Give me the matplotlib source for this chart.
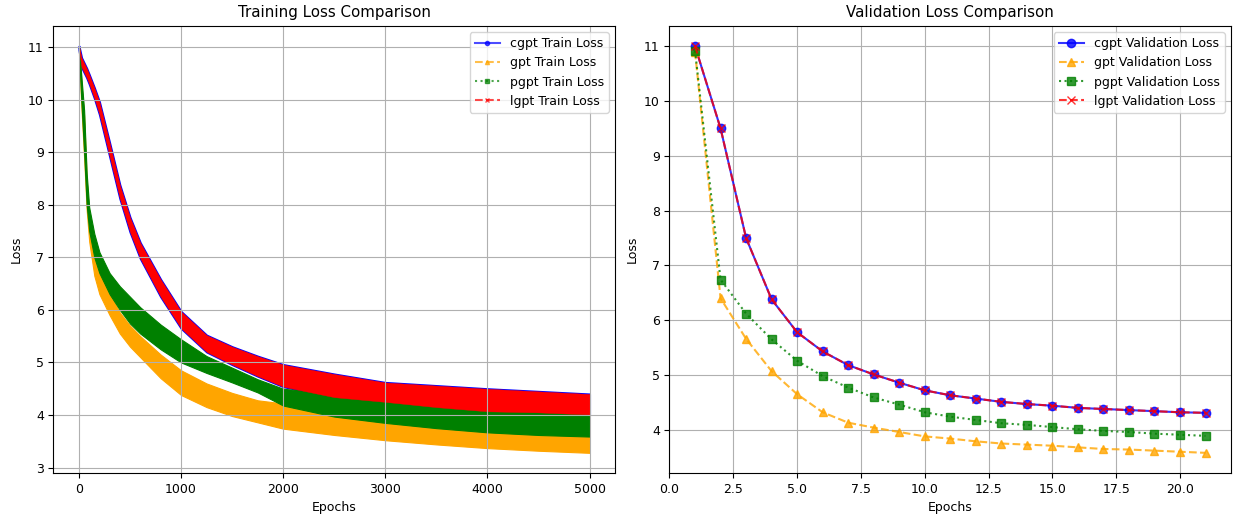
import numpy as np
import matplotlib.pyplot as plt

plt.rcParams['font.size'] = 9

# training loss: band (low / high edge) read at these epochs
train_epochs = [0, 25, 50, 75, 100, 150, 200, 300, 400, 500, 600, 800, 1000,
                1250, 1500, 1750, 2000, 2500, 3000, 3500, 4000, 4500, 5000]

cgpt_train_lo = [10.95, 10.62, 10.52, 10.42, 10.30, 10.03, 9.72, 8.92, 8.12, 7.48, 6.98, 6.25, 5.65,
                 5.20, 4.96, 4.74, 4.54, 4.34, 4.25, 4.15, 4.07, 4.05, 4.01]
cgpt_train_hi = [11.02, 10.80, 10.70, 10.60, 10.48, 10.23, 9.96, 9.18, 8.38, 7.76, 7.28, 6.58, 5.97,
                 5.52, 5.30, 5.12, 4.96, 4.78, 4.62, 4.56, 4.50, 4.45, 4.40]

gpt_train_lo = [10.85, 9.80, 8.90, 7.90, 7.30, 6.65, 6.30, 5.90, 5.55, 5.30, 5.10, 4.70, 4.38,
                4.15, 3.98, 3.86, 3.74, 3.62, 3.52, 3.44, 3.37, 3.32, 3.28]
gpt_train_hi = [11.00, 10.30, 9.70, 8.50, 7.80, 7.05, 6.70, 6.30, 5.95, 5.70, 5.50, 5.15, 4.85,
                4.60, 4.42, 4.28, 4.22, 4.05, 3.92, 3.82, 3.74, 3.69, 3.65]

pgpt_train_lo = [10.90, 9.90, 9.00, 8.00, 7.50, 7.00, 6.70, 6.30, 6.00, 5.74, 5.55, 5.25, 5.00,
                 4.80, 4.62, 4.43, 4.18, 3.97, 3.85, 3.75, 3.67, 3.62, 3.59]
pgpt_train_hi = [11.00, 10.40, 9.80, 8.60, 7.95, 7.45, 7.10, 6.70, 6.45, 6.25, 6.05, 5.72, 5.44,
                 5.12, 4.90, 4.68, 4.50, 4.40, 4.30, 4.20, 4.12, 4.08, 4.04]

lgpt_train_lo = [10.95, 10.62, 10.52, 10.42, 10.30, 10.03, 9.72, 8.92, 8.12, 7.48, 6.98, 6.25, 5.65,
                 5.20, 4.96, 4.74, 4.54, 4.34, 4.25, 4.15, 4.07, 4.05, 4.01]
lgpt_train_hi = [11.02, 10.80, 10.70, 10.60, 10.48, 10.23, 9.96, 9.18, 8.38, 7.76, 7.28, 6.58, 5.97,
                 5.52, 5.30, 5.12, 4.96, 4.78, 4.62, 4.56, 4.50, 4.45, 4.40]

# validation loss per epoch
val_epochs = list(range(1, 22))
cgpt_val = [11.0, 9.5, 7.5, 6.38, 5.78, 5.43, 5.18, 5.01, 4.86, 4.72, 4.63,
            4.57, 4.51, 4.47, 4.44, 4.40, 4.38, 4.36, 4.34, 4.32, 4.31]
gpt_val = [10.9, 6.40, 5.66, 5.07, 4.65, 4.32, 4.13, 4.04, 3.96, 3.88, 3.84,
           3.79, 3.75, 3.73, 3.71, 3.68, 3.65, 3.64, 3.62, 3.60, 3.58]
pgpt_val = [10.92, 6.74, 6.12, 5.65, 5.26, 4.98, 4.77, 4.59, 4.46, 4.32, 4.24,
            4.18, 4.12, 4.09, 4.05, 4.01, 3.98, 3.96, 3.93, 3.91, 3.89]
lgpt_val = [11.0, 9.5, 7.5, 6.38, 5.78, 5.43, 5.18, 5.01, 4.86, 4.72, 4.63,
            4.57, 4.51, 4.47, 4.44, 4.40, 4.38, 4.36, 4.34, 4.32, 4.31]

plt.figure(figsize=(12.35, 5.16), dpi=100)

# --- training loss ---
ax1 = plt.subplot(1, 2, 1)
ax1.fill_between(train_epochs, cgpt_train_lo, cgpt_train_hi, facecolor='blue', edgecolor='blue', linewidth=1.5)
ax1.fill_between(train_epochs, gpt_train_lo, gpt_train_hi, facecolor='orange', edgecolor='orange', linewidth=0.8)
ax1.fill_between(train_epochs, pgpt_train_lo, pgpt_train_hi, facecolor='green', edgecolor='green', linewidth=0.8)
ax1.fill_between(train_epochs, lgpt_train_lo, lgpt_train_hi, facecolor='red', edgecolor='red', linewidth=0.3)
# legend entries
ax1.plot([], [], color='blue', marker='o', markersize=3, linestyle='-', alpha=0.7, label='cgpt Train Loss')
ax1.plot([], [], color='orange', marker='^', markersize=3, linestyle='--', alpha=0.7, label='gpt Train Loss')
ax1.plot([], [], color='green', marker='s', markersize=3, linestyle=':', alpha=0.7, label='pgpt Train Loss')
ax1.plot([], [], color='red', marker='x', markersize=3, linestyle='--', alpha=0.7, label='lgpt Train Loss')
plt.title('Training Loss Comparison')
plt.xlabel('Epochs')
plt.ylabel('Loss')
plt.legend(loc='upper right')
plt.grid(True)

# --- validation loss ---
ax2 = plt.subplot(1, 2, 2)
plt.plot(val_epochs, cgpt_val, color='blue', marker='o', linestyle='-', alpha=0.8, label='cgpt Validation Loss')
plt.plot(val_epochs, gpt_val, color='orange', marker='^', linestyle='--', alpha=0.8, label='gpt Validation Loss')
plt.plot(val_epochs, pgpt_val, color='green', marker='s', linestyle=':', alpha=0.8, label='pgpt Validation Loss')
plt.plot(val_epochs, lgpt_val, color='red', marker='x', linestyle='--', alpha=0.8, label='lgpt Validation Loss')
plt.title('Validation Loss Comparison')
plt.xlabel('Epochs')
plt.ylabel('Loss')
plt.legend(loc='upper right')
plt.grid(True)

plt.subplots_adjust(left=0.0433, right=0.9968, top=0.95, bottom=0.083, wspace=0.097)
plt.savefig('out.png', dpi=100)
